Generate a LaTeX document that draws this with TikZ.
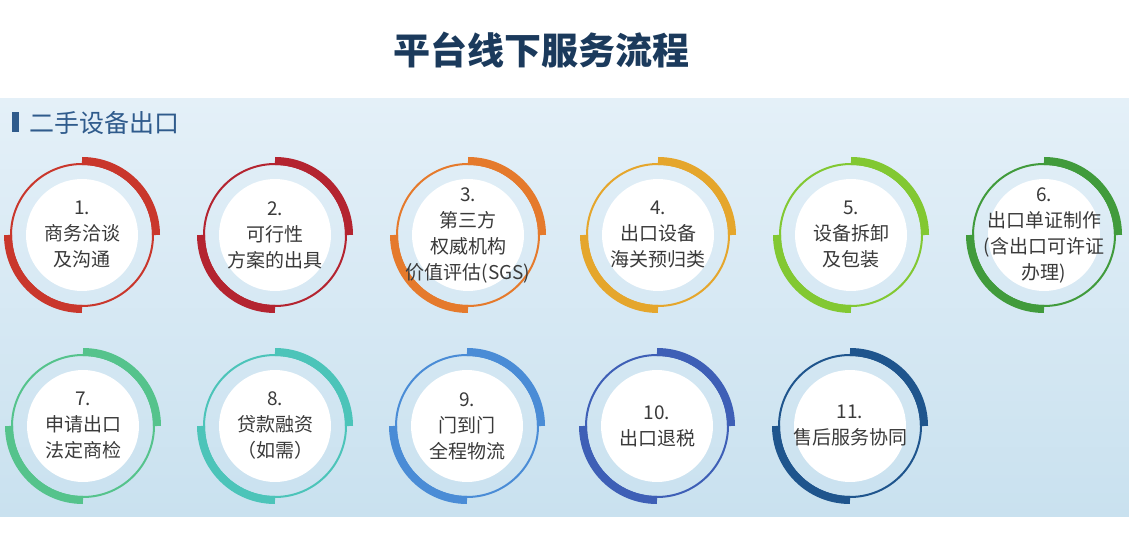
\documentclass[tikz,border=0pt]{standalone}
\usepackage{fontspec}
\setmainfont{Noto Sans CJK SC}
\usepackage{tikz}
\usepackage{xcolor}
\usetikzlibrary{calc}
\definecolor{titleblue}{HTML}{1B3A5C}
\definecolor{subblue}{HTML}{2F5B8C}
\definecolor{paneltop}{HTML}{E4F0F8}
\definecolor{panelbottom}{HTML}{C9E1EF}
\definecolor{textgrey}{HTML}{3A3A3A}
\definecolor{stepa}{HTML}{C9372C}
\definecolor{stepb}{HTML}{B42430}
\definecolor{stepc}{HTML}{E57A2C}
\definecolor{stepd}{HTML}{E5A62C}
\definecolor{stepe}{HTML}{82C832}
\definecolor{stepf}{HTML}{419B3C}
\definecolor{stepg}{HTML}{55C38C}
\definecolor{steph}{HTML}{4CC4B9}
\definecolor{stepi}{HTML}{4A8CD6}
\definecolor{stepj}{HTML}{3E5FB6}
\definecolor{stepk}{HTML}{1F558D}
\tikzstyle{stepdisc} =[
    circle,
    fill=white,
    minimum size=112pt,
    inner sep=0pt
    ]
\tikzstyle{steptext} =[
    align=center,
    text=textgrey,
    inner sep=0pt,
    font=\fontsize{19}{26}\selectfont
    ]
\newcommand{\servicestep}[4]{% step circle
    \node[stepdisc] (#1) at (#2) {};
    \draw[#3, line width=2pt] (#1.center) circle (71pt);
    \draw[#3, line width=8pt] ($(#1.center)+(74pt,0pt)$) arc (0:90:74pt);
    \draw[#3, line width=8pt] ($(#1.center)+(-74pt,0pt)$) arc (180:270:74pt);
    \node[steptext] (#1text) at (#1.center) {#4};
}
\begin{document}
\begin{tikzpicture}[x=1pt, y=1pt]
\useasboundingbox (0,0) rectangle (1129,536);
\fill[white] (0,0) rectangle (1129,536);
\shade[top color=paneltop, bottom color=panelbottom] (0,20) rectangle (1129,437);
\node[font=\bfseries\fontsize{37}{40}\selectfont, text=titleblue] (title) at (541,486) {平台线下服务流程};
\node[fill=subblue, minimum width=7pt, minimum height=20pt, inner sep=0pt] (bar) at (15.5,414) {};
\node[anchor=west, text=subblue, inner sep=0pt, font=\fontsize{25}{28}\selectfont] (export) at (29,413) {二手设备出口};
% first row
\servicestep{s1}{82,301}{stepa}{1.\\商务洽谈\\及沟通}
\servicestep{s2}{275,301}{stepb}{2.\\可行性\\方案的出具}
\servicestep{s3}{468,301}{stepc}{3.\\第三方\\权威机构\\价值评估(SGS)}
\servicestep{s4}{658,301}{stepd}{4.\\出口设备\\海关预归类}
\servicestep{s5}{851,301}{stepe}{5.\\设备拆卸\\及包装}
\servicestep{s6}{1044,301}{stepf}{6.\\出口单证制作\\(含出口可许证\\办理)}
% second row
\servicestep{s7}{83,110}{stepg}{7.\\申请出口\\法定商检}
\servicestep{s8}{275,110}{steph}{8.\\贷款融资\\（如需）}
\servicestep{s9}{467,110}{stepi}{9.\\门到门\\全程物流}
\servicestep{s10}{657,110}{stepj}{10.\\出口退税}
\servicestep{s11}{850,110}{stepk}{11.\\售后服务协同}
\end{tikzpicture}
\end{document}
